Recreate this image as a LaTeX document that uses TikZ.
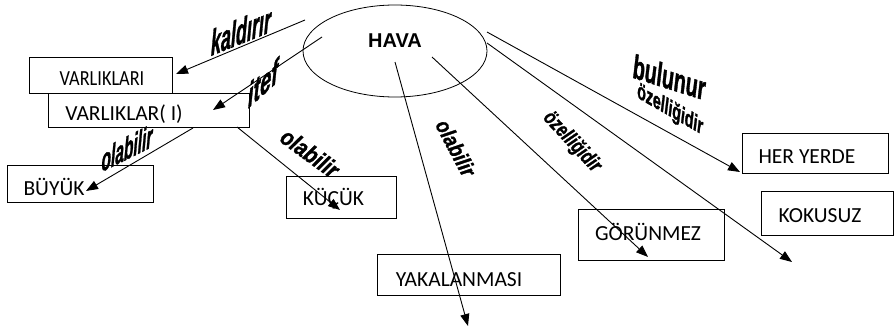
\documentclass[tikz,border=0pt]{standalone}
\usepackage{fontspec}
\setmainfont{Carlito}
\newfontfamily\havafont{Liberation Sans}
\newfontfamily\lblfont{Liberation Sans}[BoldItalicFeatures={FakeBold=1.5}]
\usetikzlibrary{arrows.meta,shapes.geometric}
\begin{document}
\begin{tikzpicture}[x=1pt,y=-1pt,
  box/.style={draw, line width=0.8pt, fill=white, inner sep=0, outer sep=0},
  boxtext/.style={font=\fontsize{21.5}{24}\selectfont, anchor=base, inner sep=0},
  conn/.style={line width=0.9pt, -{Triangle[length=12pt,width=9pt]}},
  lbl/.style={font=\lblfont\bfseries\itshape\fontsize{10}{12}\selectfont, inner sep=0}]
\useasboundingbox (0,0) rectangle (895,329);
\fill[white] (0,0) rectangle (895,329);

% boxes
\node[box, minimum width=143pt, minimum height=36pt] (b1) at (100.5,75) {};
\node[box, minimum width=201pt, minimum height=34pt] (b2) at (148.5,110) {};
\node[box, minimum width=146pt, minimum height=37pt] (b3) at (80,183.5) {};
\node[box, minimum width=110pt, minimum height=42pt] (b4) at (341,197) {};
\node[box, minimum width=146pt, minimum height=40pt] (b5) at (815,153) {};
\node[box, minimum width=132pt, minimum height=44pt] (b6) at (827,213) {};
\node[box, minimum width=146pt, minimum height=51pt] (b7) at (651,234.5) {};
\node[box, minimum width=183pt, minimum height=41pt] (b8) at (468.5,274.5) {};

% box texts
\node[boxtext, xscale=0.85] (t1) at (102,86) {VARLIKLARI};
\node[boxtext] (t2) at (124,121) {VARLIKLAR( I)};
\node[boxtext] (t3) at (54,195) {BÜYÜK};
\node[boxtext] (t4) at (333.5,205) {KÜÇÜK};
\node[boxtext] (t5) at (807,163) {HER YERDE};
\node[boxtext] (t6) at (820,222) {KOKUSUZ};
\node[boxtext] (t7) at (648,240) {GÖRÜNMEZ};
\node[boxtext] (t8) at (459,286) {YAKALANMASI};

% ellipse
\node[draw, ellipse, line width=0.8pt, minimum width=184pt, minimum height=92pt, inner sep=0] (hava) at (395,51) {};
\node[font=\havafont\bfseries\fontsize{20}{24}\selectfont, anchor=base, inner sep=0] (havatxt) at (395,48) {HAVA};

% connector ends
\coordinate (s1) at (305,20);  \coordinate (e1) at (176,74);
\coordinate (s2) at (322,37);  \coordinate (e2) at (213,110);
\coordinate (s3) at (193,128); \coordinate (e3) at (86,191);
\coordinate (s4) at (237,127); \coordinate (e4) at (340,210);
\coordinate (s5) at (395,62);  \coordinate (e5) at (468,326);
\coordinate (s6) at (432,57);  \coordinate (e6) at (648,257);
\coordinate (s7) at (487,43);  \coordinate (e7) at (792,262);
\coordinate (s8) at (487,32);  \coordinate (e8) at (740,172);

\draw[conn] (s1) -- (e1);
\draw[conn] (s2) -- (e2);
\draw[conn] (s3) -- (e3);
\draw[conn] (s4) -- (e4);
\draw[conn] (s5) -- (e5);
\draw[conn] (s6) -- (e6);
\draw[conn] (s7) -- (e7);
\draw[conn] (s8) -- (e8);

% labels
\node[lbl, yslant=0.4, xscale=1.8, yscale=3.6] (l1) at (241,31) {kaldırır};
\node[lbl, yslant=0.9, xscale=2.0, yscale=3.4] (l2) at (263,83) {itef};
\node[lbl, yslant=0.5, xscale=1.55, yscale=3.2] (l3) at (127,148) {olabilir};
\node[lbl, rotate=-36, xscale=2.0, yscale=2.4] (l4) at (310,153) {olabilir};
\node[lbl, rotate=-62, xscale=1.85, yscale=2.2] (l5) at (456,148) {olabilir};
\node[lbl, rotate=-47, xscale=1.6, yscale=2.1] (l6) at (572,142) {özelliğidir};
\node[lbl, yslant=-0.315, xscale=1.94, yscale=3.4] (l7) at (669,77) {bulunur};
\node[lbl, yslant=-0.57, xscale=1.4, yscale=2.4] (l8) at (670,110) {özelliğidir};
\end{tikzpicture}
\end{document}
